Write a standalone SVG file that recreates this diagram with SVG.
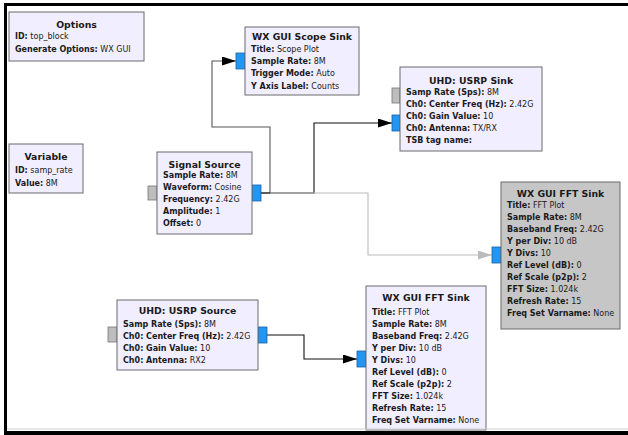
<svg xmlns="http://www.w3.org/2000/svg" width="628" height="435" viewBox="0 0 628 435">
<defs>
<style>
.blk{fill:#F1EEFF;stroke:#6a6a6a;stroke-width:1}
.byp{fill:#C6C6C6;stroke:#6a6a6a;stroke-width:1}
.pin{fill:#BDBDBD;stroke:#777;stroke-width:0.8}
.pout{fill:#2196F3;stroke:#1a5fa0;stroke-width:0.8}
text{font-family:"DejaVu Sans","Liberation Sans",sans-serif;fill:#1a1a1a}
.t{font-size:9.3px;font-weight:bold;text-anchor:middle}
.l{font-size:8px}
.l tspan.k{font-weight:bold}
.c{fill:none;stroke-width:1.1}
</style>
<marker id="ah" markerUnits="userSpaceOnUse" markerWidth="15" markerHeight="10" refX="14" refY="4.5" orient="auto">
<path d="M0,0 L14,4.5 L0,9 z" fill="#000"/>
</marker>
<marker id="ahg" markerUnits="userSpaceOnUse" markerWidth="15" markerHeight="10" refX="14" refY="4.5" orient="auto">
<path d="M0,0 L14,4.5 L0,9 z" fill="#BBBBBB"/>
</marker>
</defs>
<rect width="628" height="435" fill="#fff"/>

<g id="connectors">
<path class="c" d="M261,193 H270 V127 H212 V61 H236" stroke="#555" marker-end="url(#ah)"/>
<path class="c" d="M261,193 H314 V123 H392" stroke="#111" marker-end="url(#ah)"/>
<path class="c" d="M270,193 H368 V255 H492" stroke="#BBBBBB" marker-end="url(#ahg)"/>
<path class="c" d="M267,335 H304 V359 H357" stroke="#111" marker-end="url(#ah)"/>
</g>

<g id="options">
<rect class="blk" x="9" y="12" width="135" height="49"/>
<text class="t" x="76.5" y="27.5">Options</text>
<text class="l" x="15" y="39"><tspan class="k">ID:</tspan> top_block</text>
<text class="l" x="15" y="51.5"><tspan class="k">Generate Options:</tspan> WX GUI</text>
</g>

<g id="variable">
<rect class="blk" x="9" y="144" width="74" height="49"/>
<text class="t" x="46" y="159.5">Variable</text>
<text class="l" x="15" y="172.5"><tspan class="k">ID:</tspan> samp_rate</text>
<text class="l" x="15" y="185.5"><tspan class="k">Value:</tspan> 8M</text>
</g>

<g id="signal_source">
<rect class="pin" x="148" y="186" width="9" height="14"/>
<rect class="pout" x="252" y="185" width="9" height="16"/>
<rect class="blk" x="157" y="152" width="95" height="82"/>
<text class="t" x="204.5" y="168">Signal Source</text>
<text class="l" x="163" y="177.5"><tspan class="k">Sample Rate:</tspan> 8M</text>
<text class="l" x="163" y="189.8"><tspan class="k">Waveform:</tspan> Cosine</text>
<text class="l" x="163" y="202"><tspan class="k">Frequency:</tspan> 2.42G</text>
<text class="l" x="163" y="214.2"><tspan class="k">Amplitude:</tspan> 1</text>
<text class="l" x="163" y="226.4"><tspan class="k">Offset:</tspan> 0</text>
</g>

<g id="scope_sink">
<rect class="pout" x="236" y="53" width="9" height="16"/>
<rect class="blk" x="245" y="27" width="114" height="68"/>
<text class="t" x="302" y="39.5">WX GUI Scope Sink</text>
<text class="l" x="251" y="51.5"><tspan class="k">Title:</tspan> Scope Plot</text>
<text class="l" x="251" y="64"><tspan class="k">Sample Rate:</tspan> 8M</text>
<text class="l" x="251" y="76.2"><tspan class="k">Trigger Mode:</tspan> Auto</text>
<text class="l" x="251" y="88.5"><tspan class="k">Y Axis Label:</tspan> Counts</text>
</g>

<g id="usrp_sink">
<rect class="pin" x="392" y="88" width="8" height="15"/>
<rect class="pout" x="392" y="115" width="8" height="16"/>
<rect class="blk" x="400" y="67" width="142" height="84"/>
<text class="t" x="471" y="83.5">UHD: USRP Sink</text>
<text class="l" x="406" y="95"><tspan class="k">Samp Rate (Sps):</tspan> 8M</text>
<text class="l" x="406" y="107"><tspan class="k">Ch0: Center Freq (Hz):</tspan> 2.42G</text>
<text class="l" x="406" y="119"><tspan class="k">Ch0: Gain Value:</tspan> 10</text>
<text class="l" x="406" y="131"><tspan class="k">Ch0: Antenna:</tspan> TX/RX</text>
<text class="l" x="406" y="143"><tspan class="k">TSB tag name:</tspan></text>
</g>

<g id="fft_sink_1">
<rect class="pout" x="492" y="247" width="9" height="16"/>
<rect class="byp" x="501" y="182" width="119" height="147"/>
<text class="t" x="560.5" y="197">WX GUI FFT Sink</text>
<text class="l" x="507" y="207.5"><tspan class="k">Title:</tspan> FFT Plot</text>
<text class="l" x="507" y="219.5"><tspan class="k">Sample Rate:</tspan> 8M</text>
<text class="l" x="507" y="231.5"><tspan class="k">Baseband Freq:</tspan> 2.42G</text>
<text class="l" x="507" y="243.5"><tspan class="k">Y per Div:</tspan> 10 dB</text>
<text class="l" x="507" y="255.5"><tspan class="k">Y Divs:</tspan> 10</text>
<text class="l" x="507" y="267.5"><tspan class="k">Ref Level (dB):</tspan> 0</text>
<text class="l" x="507" y="279.5"><tspan class="k">Ref Scale (p2p):</tspan> 2</text>
<text class="l" x="507" y="291.5"><tspan class="k">FFT Size:</tspan> 1.024k</text>
<text class="l" x="507" y="303.5"><tspan class="k">Refresh Rate:</tspan> 15</text>
<text class="l" x="507" y="315.5"><tspan class="k">Freq Set Varname:</tspan> None</text>
</g>

<g id="usrp_source">
<rect class="pin" x="108" y="327" width="9" height="15"/>
<rect class="pout" x="258" y="327" width="9" height="16"/>
<rect class="blk" x="117" y="300" width="141" height="70"/>
<text class="t" x="187.5" y="313.5">UHD: USRP Source</text>
<text class="l" x="123" y="326.5"><tspan class="k">Samp Rate (Sps):</tspan> 8M</text>
<text class="l" x="123" y="338.5"><tspan class="k">Ch0: Center Freq (Hz):</tspan> 2.42G</text>
<text class="l" x="123" y="350.5"><tspan class="k">Ch0: Gain Value:</tspan> 10</text>
<text class="l" x="123" y="362.5"><tspan class="k">Ch0: Antenna:</tspan> RX2</text>
</g>

<g id="fft_sink_2">
<rect class="pout" x="357" y="351" width="9" height="16"/>
<rect class="blk" x="366" y="286" width="120" height="144"/>
<text class="t" x="426" y="300.5">WX GUI FFT Sink</text>
<text class="l" x="372" y="314.5"><tspan class="k">Title:</tspan> FFT Plot</text>
<text class="l" x="372" y="326.5"><tspan class="k">Sample Rate:</tspan> 8M</text>
<text class="l" x="372" y="338.5"><tspan class="k">Baseband Freq:</tspan> 2.42G</text>
<text class="l" x="372" y="350.5"><tspan class="k">Y per Div:</tspan> 10 dB</text>
<text class="l" x="372" y="362.5"><tspan class="k">Y Divs:</tspan> 10</text>
<text class="l" x="372" y="374.5"><tspan class="k">Ref Level (dB):</tspan> 0</text>
<text class="l" x="372" y="386.5"><tspan class="k">Ref Scale (p2p):</tspan> 2</text>
<text class="l" x="372" y="398.5"><tspan class="k">FFT Size:</tspan> 1.024k</text>
<text class="l" x="372" y="410.5"><tspan class="k">Refresh Rate:</tspan> 15</text>
<text class="l" x="372" y="422.5"><tspan class="k">Freq Set Varname:</tspan> None</text>
</g>

<g id="frame">
<line x1="6" y1="429" x2="628" y2="429" stroke="#cfcfcf" stroke-width="1"/>
<path d="M5.5,435 V4.5 H628" fill="none" stroke="#000" stroke-width="3"/>
<rect x="4" y="431" width="624" height="4" fill="#000"/>
</g>
</svg>
